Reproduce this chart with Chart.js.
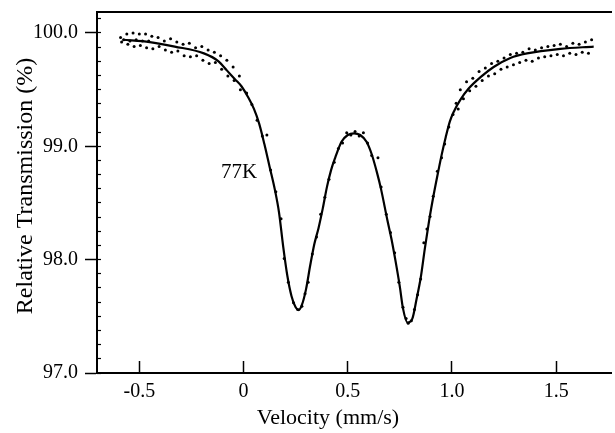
<!DOCTYPE html>
<html><head><meta charset="utf-8">
<script src="https://cdn.jsdelivr.net/npm/chart.js@4"></script>
<style>html,body{margin:0;padding:0;background:#fff}canvas{display:block}</style>
</head><body>
<canvas id="c" width="615" height="433"></canvas>
<script>
// Fitted curve
const fitVelocity = [-0.58,-0.45,-0.33,-0.19,-0.12,-0.08,-0.04,-0.01,0.02,0.05,0.075,0.10,0.125,0.15,0.17,0.19,0.21,0.23,0.25,0.265,0.28,0.30,0.32,0.34,0.36,0.38,0.40,0.42,0.44,0.47,0.50,0.53,0.56,0.59,0.615,0.64,0.66,0.69,0.71,0.73,0.75,0.765,0.787,0.81,0.83,0.85,0.87,0.89,0.91,0.93,0.95,0.97,0.99,1.01,1.04,1.08,1.14,1.20,1.28,1.36,1.52,1.68];
const fitTransmission = [99.94,99.92,99.88,99.82,99.75,99.67,99.59,99.53,99.44,99.33,99.20,99.02,98.82,98.62,98.42,98.12,97.86,97.68,97.58,97.555,97.60,97.74,97.95,98.14,98.28,98.45,98.64,98.79,98.90,99.04,99.10,99.115,99.10,99.04,98.93,98.77,98.62,98.35,98.18,97.98,97.76,97.57,97.445,97.48,97.65,97.84,98.10,98.34,98.55,98.74,98.92,99.08,99.22,99.31,99.41,99.51,99.615,99.70,99.78,99.82,99.86,99.88];

const dotVelocity = [
 -0.59,-0.56,-0.53,-0.50,-0.47,-0.44,-0.41,-0.38,-0.35,-0.32,-0.29,-0.26,-0.23,-0.20,-0.17,-0.14,-0.11,-0.08,-0.05,-0.02,
 -0.585,-0.555,-0.525,-0.495,-0.465,-0.435,-0.405,-0.375,-0.345,-0.315,-0.285,-0.255,-0.225,-0.195,-0.165,-0.135,-0.105,-0.075,-0.045,-0.015,
 -0.575,-0.545,-0.515,-0.485,-0.455,
 0.015,0.04,0.065,0.09,0.112,0.13,0.155,0.18,0.195,0.215,0.24,0.26,0.28,0.295,0.31,0.33,0.35,0.37,0.39,0.41,0.435,0.455,0.475,0.495,0.515,0.535,0.555,0.575,0.595,0.615,0.645,0.66,0.685,0.705,0.725,0.745,0.765,0.78,0.79,0.805,0.82,0.835,0.85,0.865,0.88,0.895,0.91,0.93,0.95,0.965,0.985,1.005,1.02,1.03,
 1.04,1.07,1.10,1.13,1.16,1.19,1.22,1.25,1.28,1.31,1.34,1.37,1.40,1.43,1.46,1.49,1.52,1.55,1.58,1.61,1.64,1.67,
 1.055,1.085,1.115,1.145,1.175,1.205,1.235,1.265,1.295,1.325,1.355,1.385,1.415,1.445,1.475,1.505,1.535,1.565,1.595,1.625,1.655
];
const dotTransmission = [
 99.96,99.99,100.00,99.99,99.99,99.97,99.96,99.93,99.95,99.92,99.90,99.91,99.87,99.88,99.85,99.83,99.80,99.76,99.70,99.62,
 99.92,99.90,99.88,99.89,99.87,99.86,99.88,99.85,99.83,99.84,99.80,99.79,99.80,99.76,99.73,99.74,99.68,99.62,99.58,99.50,
 99.94,99.93,99.94,99.93,99.93,
 99.47,99.37,99.23,99.09,99.10,98.79,98.60,98.36,98.01,97.80,97.62,97.56,97.59,97.70,97.80,98.05,98.20,98.40,98.55,98.71,98.86,98.98,99.03,99.12,99.10,99.13,99.09,99.12,99.03,98.92,98.90,98.64,98.40,98.24,98.06,97.80,97.58,97.48,97.44,97.46,97.56,97.69,97.83,98.15,98.27,98.38,98.56,98.78,98.90,99.02,99.17,99.28,99.38,99.33,
 99.50,99.57,99.60,99.66,99.69,99.73,99.75,99.78,99.81,99.82,99.83,99.86,99.85,99.87,99.88,99.89,99.90,99.88,99.91,99.90,99.92,99.94,
 99.42,99.49,99.53,99.58,99.62,99.64,99.68,99.70,99.72,99.74,99.76,99.75,99.78,99.79,99.80,99.81,99.80,99.82,99.81,99.83,99.82
];

const xTickValues = [-0.5, 0, 0.5, 1.0, 1.5];
const xTickLabels = ['-0.5', '0', '0.5', '1.0', '1.5'];
const yTickValues = [97, 98, 99, 100];
const yTickLabels = ['97.0', '98.0', '99.0', '100.0'];
const yMinorStep = 0.125;
const seriesLabel = '77K';
const xTitle = 'Velocity (mm/s)';
const yTitle = 'Relative Transmission (%)';

const X_MIN = -0.703, X_MAX = 1.763, Y_MIN = 97.0, Y_MAX = 100.185;
const FONT = '"Liberation Serif", "Times New Roman", serif';

const fitData = fitVelocity.map((v, i) => ({x: v, y: fitTransmission[i]}));
const dotData = dotVelocity.map((v, i) => ({x: v, y: dotTransmission[i]}));

const noPad = s => { s.paddingTop = 0; s.paddingBottom = 0; s.paddingLeft = 0; s.paddingRight = 0; };

const textPlugin = {
  id: 'texts',
  afterDraw(chart) {
    const ctx = chart.ctx;
    const xs = chart.scales.x, ys = chart.scales.y;
    ctx.save();
    ctx.fillStyle = '#000';
    ctx.font = '21px ' + FONT;
    ctx.textAlign = 'left';
    ctx.textBaseline = 'alphabetic';
    ctx.fillText(seriesLabel, xs.getPixelForValue(-0.108), ys.getPixelForValue(98.72));
    ctx.font = '22px ' + FONT;
    ctx.textAlign = 'center';
    ctx.textBaseline = 'middle';
    ctx.fillText(xTitle, xs.getPixelForValue(0.405), 418);
    ctx.font = '24px ' + FONT;
    ctx.translate(26, ys.getPixelForValue(98.65));
    ctx.rotate(-Math.PI / 2);
    ctx.fillText(yTitle, 0, 0);
    ctx.restore();
  }
};

new Chart(document.getElementById('c'), {
  type: 'scatter',
  data: {
    datasets: [
      {label: 'fit', data: fitData, showLine: true, borderColor: '#000', borderWidth: 2.2,
       pointRadius: 0, cubicInterpolationMode: 'monotone', fill: false, order: 1},
      {label: 'data', data: dotData, showLine: false, pointRadius: 1.5, pointBorderWidth: 0,
       backgroundColor: '#000', borderColor: '#000', order: 0}
    ]
  },
  options: {
    responsive: false,
    animation: false,
    devicePixelRatio: 1,
    layout: {padding: {top: 12, right: 0, left: 0, bottom: 0}},
    plugins: {legend: {display: false}, tooltip: {enabled: false}},
    scales: {
      x: {
        type: 'linear', position: 'bottom', min: X_MIN, max: X_MAX,
        afterBuildTicks: s => { s.ticks = xTickValues.map(v => ({value: v})); },
        afterFit: s => { s.height = 60; noPad(s); },
        ticks: {callback: v => xTickLabels[xTickValues.indexOf(v)], color: '#000',
                font: {family: FONT, size: 20}, padding: 19, maxRotation: 0, includeBounds: false},
        grid: {display: true, drawOnChartArea: false, drawTicks: true, tickLength: -12, tickWidth: 1.5, tickColor: '#000'},
        border: {display: true, color: '#000', width: 2}
      },
      xTop: {
        type: 'linear', axis: 'x', position: 'top', min: X_MIN, max: X_MAX,
        afterFit: s => { s.height = 0; noPad(s); },
        ticks: {display: false},
        grid: {display: false},
        border: {display: true, color: '#000', width: 2}
      },
      y: {
        type: 'linear', position: 'left', min: Y_MIN, max: Y_MAX, weight: 1,
        afterBuildTicks: s => { s.ticks = yTickValues.map(v => ({value: v})); },
        afterFit: s => { s.width = 97; noPad(s); },
        ticks: {callback: v => yTickLabels[yTickValues.indexOf(v)], color: '#000',
                font: {family: FONT, size: 20}, padding: 7, includeBounds: false},
        grid: {display: true, drawOnChartArea: false, drawTicks: true, tickLength: 12, tickWidth: 1.5, tickColor: '#000'},
        border: {display: true, color: '#000', width: 2}
      },
      y2: {
        type: 'linear', axis: 'y', position: 'left', min: Y_MIN, max: Y_MAX, weight: 0,
        afterFit: s => { s.width = 0; noPad(s); },
        ticks: {display: false, stepSize: yMinorStep, includeBounds: false},
        grid: {display: true, drawOnChartArea: false, drawTicks: true, tickLength: -4, tickWidth: 1.2, tickColor: '#000'},
        border: {display: false}
      }
    }
  },
  plugins: [textPlugin]
});
</script>
</body></html>
